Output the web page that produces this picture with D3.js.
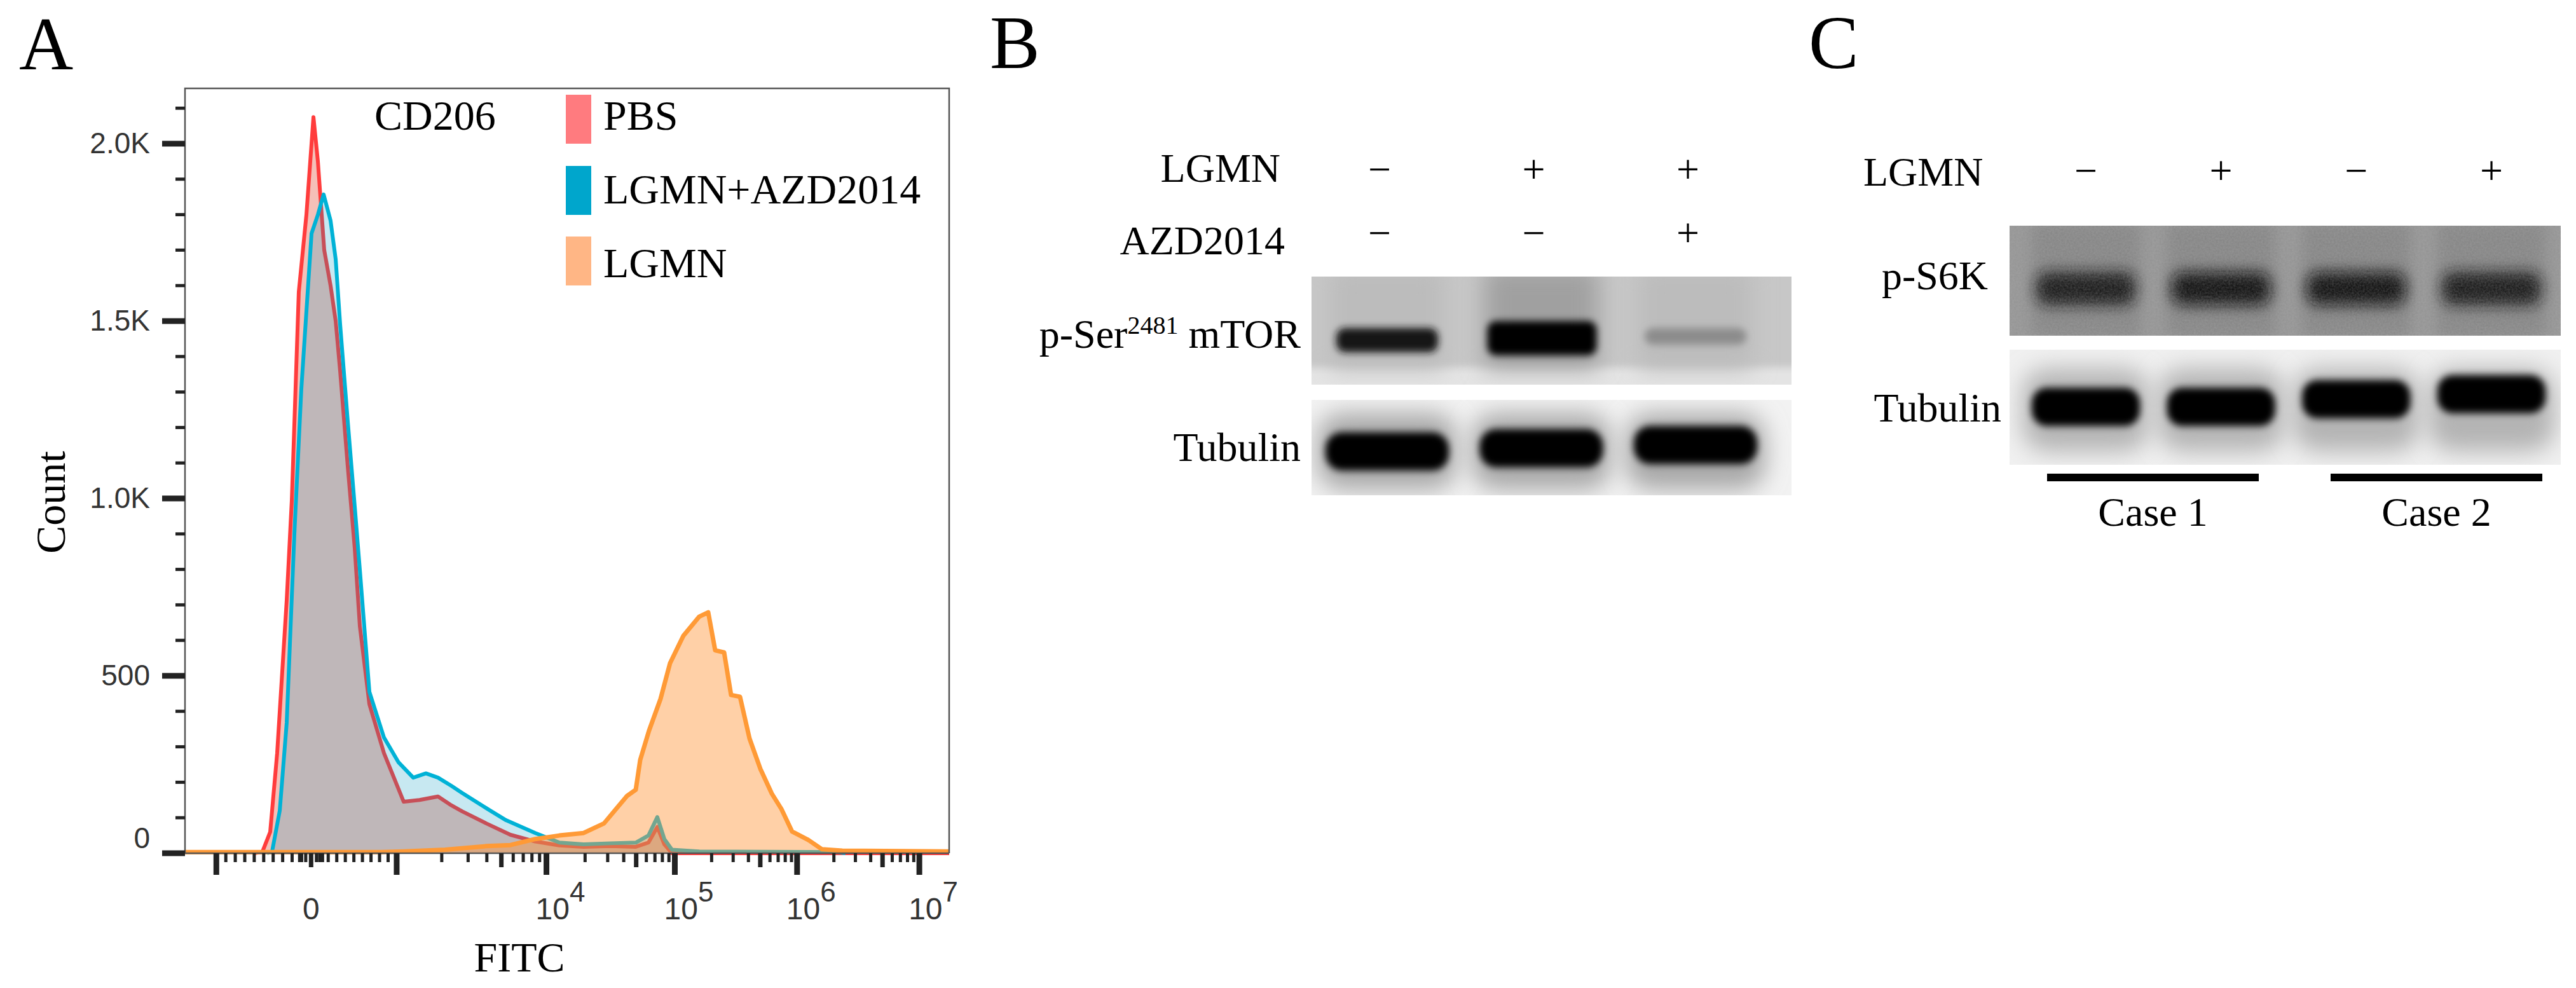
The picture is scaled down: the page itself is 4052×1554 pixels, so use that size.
<!DOCTYPE html>
<html><head><meta charset="utf-8">
<script src="https://cdn.jsdelivr.net/npm/d3@7"></script>
<style>body{margin:0;background:#fff}svg{display:block}</style>
</head><body>
<script>
// ---------- DATA ----------
// Flow histogram (x in display channels 0..1000, y = count)
const pbsX   = [91,101.5,111.5,120.6,133.1,139.8,148.9,158.9,168.1,173.9,182.2,190.5,197.2,203,213,222.1,228.8,241.3,260.4,286.2,307,331.1,348.6,362.7,394.3,425.9,458.4,490,521.6,556.6,589.9,606.5,618.1,627.3,637.3,1000];
const pbsY   = [0,5,60,282,713,996,1582,1800,2075,1950,1700,1600,1500,1360,1090,860,640,420,282,145,150,160,135,118,84,52,33,22,18,20,18,30,74,25,0,0];
const aztX   = [107.3,114,124,133.1,143.1,152.2,165.6,173.9,181.4,190.5,197.2,203,213,222.1,228.8,241.3,260.4,279.5,298.7,315.3,331.1,348.6,362.7,394.3,420.1,458.4,490,521.6,556.6,589.9,606.5,618.1,627.3,637.3,673,856.1,864.4];
const aztY   = [0,5,120,368,900,1308,1747,1800,1857,1783,1674,1491,1217,978,799,455,326,256,213,225,213,190,170,127,93,57,30,25,28,30,50,102,40,10,5,3,0];
const lgmnX  = [0,257,286.2,340.3,394.3,425.9,458.4,490,521.6,548.3,578.2,589.9,595.7,607.3,622.3,634.8,652.2,673,684.7,693.8,705.5,714.6,726.3,738.8,752.9,767.9,780.4,794.5,815.3,833.6,860.2,1000];
const lgmnY  = [3,3,5,10,20,23,40,50,57,84,161,179,263,346,435,536,613,667,679,572,566,446,441,323,238,168,125,61,38,11,7,5];
const seriesNames = ["PBS","LGMN+AZD2014","LGMN"];
const yTickValues = [0,500,1000,1500,2000];
const yTickLabels = ["0","500","1.0K","1.5K","2.0K"];
const xMajorTicks = [41,277,473,641,801,961];          // -10^3, 10^3, 10^4 .. 10^7 (channel)
const xLabelTicks = [165,473,641,801,961];
const xLabelBase  = ["0","10","10","10","10"];
const xLabelExp   = ["","4","5","6","7"];
// Western blots (relative band intensity)
const blotBLanes = ["1","2","3"];
const blotBLgmn  = ["−","+","+"];
const blotBAzd   = ["−","−","+"];
const mtorInt    = [0.93,1.0,0.45];
const tubBInt    = [1,1,1];
const blotCLanes = ["1","2","3","4"];
const blotCLgmn  = ["−","+","−","+"];
const s6kInt     = [0.92,0.95,1.0,0.9];
const tubCInt    = [1,1,1,1];
const caseLabels = ["Case 1","Case 2"];

// ---------- SVG ----------
const W=4052,H=1554;
const gray=v=>{const c=Math.round(255*(1-v));return d3.rgb(c,c,c).toString();};
const svg=d3.select("body").append("svg").attr("width",W).attr("height",H);
const defs=svg.append("defs");
[["b6",6],["b10",11],["b18",18],["b30",30]].forEach(([id,s])=>{
  defs.append("filter").attr("id",id).attr("x","-50%").attr("y","-100%").attr("width","200%").attr("height","300%")
   .append("feGaussianBlur").attr("stdDeviation",s);
});
const nf=defs.append("filter").attr("id","noise").attr("x",0).attr("y",0).attr("width","100%").attr("height","100%");
nf.append("feTurbulence").attr("type","fractalNoise").attr("baseFrequency",0.35).attr("numOctaves",2).attr("seed",3);
nf.append("feColorMatrix").attr("type","matrix").attr("values","0 0 0 0 0.5  0 0 0 0 0.5  0 0 0 0 0.5  0 0 0 0.35 -0.05");
const serif="'Liberation Serif','Times New Roman',serif";
const sans="'Liberation Sans Narrow','Liberation Sans',Arial,sans-serif";

// ---------- Panel A ----------
const L=291,R=1493,T=139,B=1342;
const x=d3.scaleLinear().domain([0,1000]).range([L,R]);
const y=d3.scaleLinear().domain([0,(B-T)/0.558]).range([B,T]);
svg.append("text").text("A").attr("x",30).attr("y",109).attr("font-family",serif).attr("font-size",118);
const clip=defs.append("clipPath").attr("id","pc"); clip.append("rect").attr("x",L).attr("y",T).attr("width",R-L).attr("height",B-T+6);
const g=svg.append("g").attr("clip-path","url(#pc)");
const mk=(xs,ys)=>xs.map((v,i)=>[v,ys[i]]);
const area=d3.area().x(d=>x(d[0])).y0(y(0)).y1(d=>y(d[1]));
const line=d3.line().x(d=>x(d[0])).y(d=>y(d[1]));
const pbs=mk(pbsX,pbsY), azt=mk(aztX,aztY), lg=mk(lgmnX,lgmnY);
g.append("path").attr("d",area(pbs)).attr("fill","#f5c0b8");
g.append("path").attr("d",line(pbs)).attr("fill","none").attr("stroke","#ff3c3c").attr("stroke-width",6).attr("stroke-linejoin","round");
g.append("path").attr("d",area(azt)).attr("fill","rgba(0,150,190,0.22)");
g.append("path").attr("d",line(azt)).attr("fill","none").attr("stroke","#00b2d6").attr("stroke-width",6).attr("stroke-linejoin","round");
g.append("path").attr("d",area(lg)).attr("fill","rgba(255,150,60,0.45)");
g.append("path").attr("d",line(lg)).attr("fill","none").attr("stroke","#ff9a36").attr("stroke-width",7).attr("stroke-linejoin","round");
// frame
svg.append("path").attr("d",`M${L},${B}V${T}H${R}V${B}`).attr("fill","none").attr("stroke","#555").attr("stroke-width",2.5);
svg.append("line").attr("x1",L).attr("x2",R).attr("y1",B).attr("y2",B).attr("stroke","#555").attr("stroke-width",2.5);
// y axis
const yMinor=d3.range(0,2200,100).filter(v=>v%500);
svg.selectAll(".ymin").data(yMinor).join("line").attr("x1",L-15).attr("x2",L).attr("y1",d=>y(d)).attr("y2",d=>y(d)).attr("stroke","#222").attr("stroke-width",5);
svg.selectAll(".ymaj").data(yTickValues).join("line").attr("x1",L-36).attr("x2",L).attr("y1",d=>y(d)).attr("y2",d=>y(d)).attr("stroke","#222").attr("stroke-width",9);
svg.selectAll(".ylab").data(yTickValues).join("text").attr("x",L-55).attr("y",(d,i)=>y(d)+(d===0?-8:15)).attr("text-anchor","end")
  .attr("font-family",sans).attr("font-size",46).attr("fill","#333").text((d,i)=>yTickLabels[i]);
// x axis ticks
const lin=[];
for(let v=-900;v<=900;v+=100){ if(v===0) continue; lin.push(v<0?165+v/1000*124:165+v/1000*112); }
const minor=[...lin,150,158,172,180];
const med=[];
for(let i=1;i<xMajorTicks.length-1;i++){const a=xMajorTicks[i],b=xMajorTicks[i+1];
  for(let k=2;k<=9;k++){ const p=a+(b-a)*Math.log10(k); (k===5?med:minor).push(p);} }
svg.selectAll(".xmin").data(minor).join("line").attr("x1",d=>x(d)).attr("x2",d=>x(d)).attr("y1",B).attr("y2",B+14).attr("stroke","#222").attr("stroke-width",5);
svg.selectAll(".xmed").data(med.concat([165])).join("line").attr("x1",d=>x(d)).attr("x2",d=>x(d)).attr("y1",B).attr("y2",B+22).attr("stroke","#222").attr("stroke-width",7);
svg.selectAll(".xmaj").data(xMajorTicks).join("line").attr("x1",d=>x(d)).attr("x2",d=>x(d)).attr("y1",B).attr("y2",B+34).attr("stroke","#222").attr("stroke-width",9);
const xl=svg.selectAll(".xlab").data(xLabelTicks).join("text").attr("x",(d,i)=>x(d)+(i===0?0:22)).attr("y",1446).attr("text-anchor","middle")
  .attr("font-family",sans).attr("font-size",48).attr("fill","#333");
xl.append("tspan").text((d,i)=>xLabelBase[i]);
xl.append("tspan").attr("dy",-28).attr("font-size",44).text((d,i)=>xLabelExp[i]);
svg.append("text").text("FITC").attr("x",817).attr("y",1528).attr("text-anchor","middle").attr("font-family",serif).attr("font-size",66);
svg.append("text").text("Count").attr("transform","translate(102,790) rotate(-90)").attr("text-anchor","middle").attr("font-family",serif).attr("font-size",66);
// legend
svg.append("text").text("CD206").attr("x",589).attr("y",204).attr("font-family",serif).attr("font-size",66);
const legCol=["#ff7b7f","#00a6cc","#ffb685"], legY=[149,261,372], legB=[204,320,436];
seriesNames.forEach((n,i)=>{
  svg.append("rect").attr("x",890).attr("y",legY[i]).attr("width",40).attr("height",77).attr("fill",legCol[i]);
  svg.append("text").text(n).attr("x",949).attr("y",legB[i]).attr("font-family",serif).attr("font-size",66);
});

// ---------- Panel B ----------
svg.append("text").text("B").attr("x",1557).attr("y",107).attr("font-family",serif).attr("font-size",118);
const xb=d3.scalePoint().domain(blotBLanes).range([2182,2667]);
svg.append("text").text("LGMN").attr("x",2014).attr("y",286).attr("text-anchor","end").attr("font-family",serif).attr("font-size",64);
svg.append("text").text("AZD2014").attr("x",2021).attr("y",400).attr("text-anchor","end").attr("font-family",serif).attr("font-size",64);
svg.selectAll(".bl").data(blotBLanes).join("text").attr("x",d=>xb(d)-12).attr("y",288).attr("text-anchor","middle").attr("font-family",serif).attr("font-size",64).text((d,i)=>blotBLgmn[i]);
svg.selectAll(".ba").data(blotBLanes).join("text").attr("x",d=>xb(d)-12).attr("y",388).attr("text-anchor","middle").attr("font-family",serif).attr("font-size",64).text((d,i)=>blotBAzd[i]);
const pl=svg.append("text").attr("x",2046).attr("y",547).attr("text-anchor","end").attr("font-family",serif).attr("font-size",64);
pl.append("tspan").text("p-Ser");pl.append("tspan").attr("dy",-22).attr("font-size",40).text("2481");pl.append("tspan").attr("dy",22).text(" mTOR");
svg.append("text").text("Tubulin").attr("x",2046).attr("y",725).attr("text-anchor","end").attr("font-family",serif).attr("font-size",64);
// blot 1
const bw=2818-2063;
const cp1=defs.append("clipPath").attr("id","cb1");cp1.append("rect").attr("x",2063).attr("y",435).attr("width",bw).attr("height",170);
const b1=svg.append("g").attr("clip-path","url(#cb1)");
b1.append("rect").attr("x",2063).attr("y",435).attr("width",bw).attr("height",170).attr("fill","#c7c7c7");
b1.append("rect").attr("x",2040).attr("y",578).attr("width",bw+50).attr("height",40).attr("fill","#e4e4e4").attr("filter","url(#b6)");
b1.selectAll(".lanebg").data(blotBLanes).join("rect").attr("x",d=>xb(d)-90).attr("y",420).attr("width",180).attr("height",160)
  .attr("fill",(d,i)=>i===1?"#a0a0a0":"#bcbcbc").attr("filter","url(#b18)");
b1.selectAll(".band").data(blotBLanes).join("rect").attr("x",(d,i)=>xb(d)-(i===1?85:80)).attr("y",(d,i)=>i===1?505:516)
  .attr("width",(d,i)=>i===1?172:160).attr("height",(d,i)=>i===1?54:(i===0?38:26)).attr("rx",14)
  .attr("fill",(d,i)=>gray(mtorInt[i])).attr("filter","url(#b6)");
// blot 2
const cp2=defs.append("clipPath").attr("id","cb2");cp2.append("rect").attr("x",2063).attr("y",629).attr("width",bw).attr("height",150);
const b2=svg.append("g").attr("clip-path","url(#cb2)");
b2.append("rect").attr("x",2063).attr("y",629).attr("width",bw).attr("height",150).attr("fill","#f2f2f2");
b2.selectAll(".halo").data(blotBLanes).join("rect").attr("x",d=>xb(d)-110).attr("y",650).attr("width",220).attr("height",120).attr("rx",40).attr("fill","#a8a8a8").attr("filter","url(#b18)");
b2.selectAll(".band").data(blotBLanes).join("rect").attr("x",d=>xb(d)-97).attr("y",(d,i)=>[680,675,670][i]).attr("width",194).attr("height",60).attr("rx",26)
  .attr("fill",(d,i)=>gray(tubBInt[i])).attr("filter","url(#b6)");

// ---------- Panel C ----------
svg.append("text").text("C").attr("x",2845).attr("y",107).attr("font-family",serif).attr("font-size",118);
const xc=d3.scalePoint().domain(blotCLanes).range([3281,3919]);
svg.append("text").text("LGMN").attr("x",2931).attr("y",292).attr("font-family",serif).attr("font-size",64);
svg.selectAll(".cl").data(blotCLanes).join("text").attr("x",d=>xc(d)).attr("y",290).attr("text-anchor","middle").attr("font-family",serif).attr("font-size",64).text((d,i)=>blotCLgmn[i]);
svg.append("text").text("p-S6K").attr("x",3127).attr("y",455).attr("text-anchor","end").attr("font-family",serif).attr("font-size",64);
svg.append("text").text("Tubulin").attr("x",3148).attr("y",663).attr("text-anchor","end").attr("font-family",serif).attr("font-size",64);
const cw=4028-3161;
const cp3=defs.append("clipPath").attr("id","cc1");cp3.append("rect").attr("x",3161).attr("y",355).attr("width",cw).attr("height",173);
const c1=svg.append("g").attr("clip-path","url(#cc1)");
c1.append("rect").attr("x",3161).attr("y",355).attr("width",cw).attr("height",173).attr("fill","#959595");
c1.selectAll(".lanebg").data(blotCLanes).join("rect").attr("x",d=>xc(d)-85).attr("y",350).attr("width",170).attr("height",180).attr("fill","#858585").attr("filter","url(#b10)");
c1.selectAll(".band").data(blotCLanes).join("rect").attr("x",d=>xc(d)-78).attr("y",428).attr("width",156).attr("height",52).attr("rx",18)
  .attr("fill",(d,i)=>gray(0.82+0.12*s6kInt[i])).attr("filter","url(#b10)");
c1.append("rect").attr("x",3161).attr("y",355).attr("width",cw).attr("height",173).attr("filter","url(#noise)");
const cp4=defs.append("clipPath").attr("id","cc2");cp4.append("rect").attr("x",3161).attr("y",550).attr("width",cw).attr("height",181);
const c2=svg.append("g").attr("clip-path","url(#cc2)");
c2.append("rect").attr("x",3161).attr("y",550).attr("width",cw).attr("height",181).attr("fill","#f0f0f0");
c2.selectAll(".halo").data(blotCLanes).join("rect").attr("x",d=>xc(d)-100).attr("y",580).attr("width",200).attr("height",130).attr("rx",40).attr("fill","#b4b4b4").attr("filter","url(#b18)");
c2.selectAll(".band").data(blotCLanes).join("rect").attr("x",d=>xc(d)-85).attr("y",(d,i)=>[610,610,598,590][i]).attr("width",170).attr("height",60).attr("rx",24)
  .attr("fill",(d,i)=>gray(tubCInt[i])).attr("filter","url(#b6)");
// case bars
const caseX=[[3220,3553],[3666,3999]];
caseLabels.forEach((c,i)=>{
  svg.append("rect").attr("x",caseX[i][0]).attr("y",745).attr("width",caseX[i][1]-caseX[i][0]).attr("height",12).attr("fill","#000");
  svg.append("text").text(c).attr("x",(caseX[i][0]+caseX[i][1])/2).attr("y",827).attr("text-anchor","middle").attr("font-family",serif).attr("font-size",64);
});
</script>
</body></html>
